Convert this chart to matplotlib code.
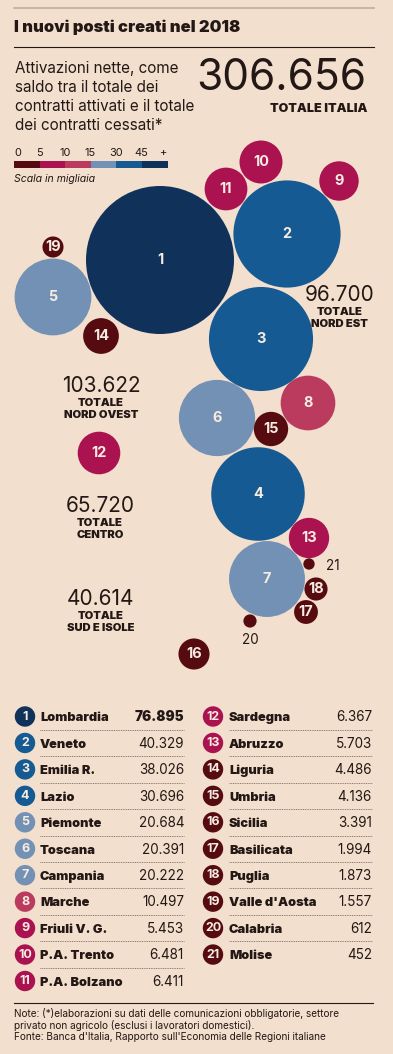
import matplotlib.pyplot as plt
from matplotlib.patches import Circle, Rectangle
import numpy as np

plt.rcParams['font.family'] = ['Inter', 'DejaVu Sans']

W, H = 393, 1054
BG = '#f2dfcd'
INK = '#231815'

regions = ['Lombardia', 'Veneto', 'Emilia R.', 'Lazio', 'Piemonte', 'Toscana', 'Campania',
           'Marche', 'Friuli V. G.', 'P.A. Trento', 'P.A. Bolzano', 'Sardegna', 'Abruzzo',
           'Liguria', 'Umbria', 'Sicilia', 'Basilicata', 'Puglia', "Valle d'Aosta", 'Calabria', 'Molise']
values = [76895, 40329, 38026, 30696, 20684, 20391, 20222, 10497, 5453, 6481, 6411,
          6367, 5703, 4486, 4136, 3391, 1994, 1873, 1557, 612, 452]

# bubble centres, in reference pixels
bubble_x = [160, 287, 261, 258, 53, 217, 267, 308, 339, 261, 226, 99, 309, 101, 271, 194, 306, 316, 53, 250, 309]
bubble_y = [260, 234, 339, 494, 297, 418, 579, 403, 181, 162, 189, 453, 538, 336, 429, 654, 612, 589, 247, 621, 564]

scale_labels = ['0', '5', '10', '15', '30', '45', '+']
scale_limits = [5000, 10000, 15000, 30000, 45000]
scale_colors = ['#560b10', '#ab1250', '#bb3b5e', '#7391b4', '#155a92', '#10315a']

area_totals = ['103.622', '96.700', '65.720', '40.614']
area_names = ['TOTALE\nNORD OVEST', 'TOTALE\nNORD EST', 'TOTALE\nCENTRO', 'TOTALE\nSUD E ISOLE']
area_x = [101, 339.5, 100, 100.5]
area_y = [386, 295, 506, 599]

fig = plt.figure(figsize=(W / 100, H / 100), dpi=100, facecolor=BG)
ax = fig.add_axes([0, 0, 1, 1])
ax.set_xlim(0, W)
ax.set_ylim(H, 0)
ax.axis('off')


def px(size):
    return size * 0.72


def color_for(v):
    return scale_colors[np.searchsorted(scale_limits, v)]


# header
ax.plot([14, 374], [7.5, 7.5], color='#bfae9c', lw=1.2)
ax.text(14, 27.5, 'I nuovi posti creati nel 2018', fontsize=px(16.5), fontweight='black', color=INK, va='center')
ax.plot([14, 374], [46.5, 46.5], color=INK, lw=0.8)

intro = ['Attivazioni nette, come', 'saldo tra il totale dei', 'contratti attivati e il totale', 'dei contratti cessati*']
for i, line in enumerate(intro):
    ax.text(15, 69 + i * 18.7, line, fontsize=px(15.2), color=INK, va='center')
ax.text(366, 79, '306.656', fontsize=px(42.5), color=INK, va='center', ha='right')
ax.text(367, 109, 'TOTALE ITALIA', fontsize=px(12.5), fontweight='black', color=INK, va='center', ha='right')

# colour scale
seg = 25.6
for i, c in enumerate(scale_colors):
    ax.add_patch(Rectangle((14 + i * seg, 161), seg, 7, color=c, lw=0))
for i, lab in enumerate(scale_labels):
    lab_x = [18, 39, 65, 90, 116, 141, 163][i]
    ax.text(lab_x, 153, lab, fontsize=px(11), color=INK, va='center', ha='center')
ax.text(14, 179, 'Scala in migliaia', fontsize=px(10.5), style='italic', color=INK, va='center')

# bubbles, area proportional to value
k = 74 / np.sqrt(max(values))
for i, v in enumerate(values):
    ax.add_patch(Circle((bubble_x[i], bubble_y[i]), k * np.sqrt(v), color=color_for(v), lw=0, zorder=2 + (i < 1)))
    if i < 19:
        ax.text(bubble_x[i], bubble_y[i], str(i + 1), fontsize=px(14.5), fontweight='bold', color='#f7ece2',
                va='center', ha='center', zorder=5)
ax.text(250, 640, '20', fontsize=px(13.5), color=INK, va='center', ha='center')
ax.text(333, 566, '21', fontsize=px(13.5), color=INK, va='center', ha='center')

# area totals
for tot, name, x, y in zip(area_totals, area_names, area_x, area_y):
    ax.text(x, y, tot, fontsize=px(20.8), color=INK, va='center', ha='center')
    ax.text(x, y + 23, name, fontsize=px(11.2), fontweight='black', color=INK, va='center', ha='center',
            linespacing=1.35)

# ranking table
row0, step = 716.5, 26.45
for i, (name, v) in enumerate(zip(regions, values)):
    col, row = (0, i) if i < 11 else (1, i - 11)
    y = row0 + row * step
    cx, tx, rx = [(25, 40, 184), (213, 229, 372)][col]
    ax.add_patch(Circle((cx, y), 10.2, color=color_for(v), lw=0))
    ax.text(cx, y, str(i + 1), fontsize=px(12.5), fontweight='bold', color='#f7ece2', va='center', ha='center', zorder=5)
    ax.text(tx, y + 4.8, name, fontsize=px(12.8), fontweight='black', color=INK, va='baseline')
    label = f'{v:,}'.replace(',', '.')
    ax.text(rx, y + 4.8, label, fontsize=px(13.5), fontweight='black' if i == 0 else 'normal', color=INK,
            va='baseline', ha='right')
    last = 10 if col == 0 else 20
    if i != last:
        ax.plot([tx, rx], [y + 13.2, y + 13.2], color='#85786e', lw=0.7, ls=(0, (1, 0.8)))

# footer
ax.plot([14, 373], [1002.5, 1002.5], color=INK, lw=0.8)
notes = ['Note: (*)elaborazioni su dati delle comunicazioni obbligatorie, settore',
         'privato non agricolo (esclusi i lavoratori domestici).',
         "Fonte: Banca d'Italia, Rapporto sull'Economia delle Regioni italiane"]
for i, line in enumerate(notes):
    ax.text(14, 1013.5 + i * 12, line, fontsize=px(10), color=INK, va='center')

fig.savefig('out.png', dpi=100, facecolor=BG)
